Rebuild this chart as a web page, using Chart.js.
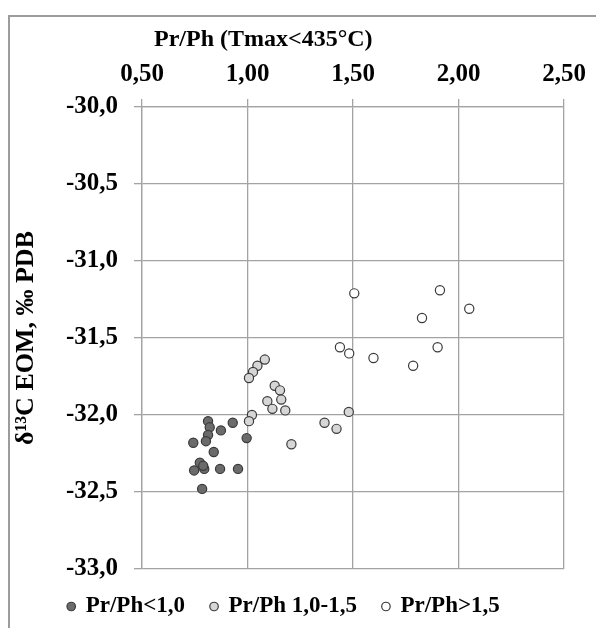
<!DOCTYPE html>
<html><head><meta charset="utf-8">
<script src="https://cdn.jsdelivr.net/npm/chart.js@4.4.1/dist/chart.umd.min.js"></script>
<style>html,body{margin:0;padding:0;background:#fff;}#wrap{position:relative;width:596px;height:628px;}</style>
</head><body><div id="wrap"><canvas id="c" width="596" height="628"></canvas></div>
<script>
// ---- data ----
const seriesNames = ['Pr/Ph<1,0', 'Pr/Ph 1,0-1,5', 'Pr/Ph>1,5'];
const xTitle = 'Pr/Ph (Tmax<435°C)';
const yTitle = 'δ¹³C EOM, ‰ PDB';
const lowX = [0.813, 0.821, 0.813, 0.803, 0.743, 0.874, 0.930, 0.996, 0.840, 0.774, 0.747, 0.795, 0.790, 0.870, 0.955, 0.785];
const lowY = [-32.04, -32.08, -32.13, -32.17, -32.18, -32.10, -32.05, -32.15, -32.24, -32.31, -32.36, -32.35, -32.33, -32.35, -32.35, -32.48];
const midX = [1.082, 1.047, 1.026, 1.007, 1.129, 1.154, 1.160, 1.094, 1.118, 1.179, 1.021, 1.007, 1.208, 1.365, 1.422, 1.480];
const midY = [-31.64, -31.68, -31.72, -31.76, -31.81, -31.84, -31.90, -31.91, -31.96, -31.97, -32.00, -32.04, -32.19, -32.05, -32.09, -31.98];
const highX = [1.506, 1.912, 2.051, 1.827, 1.438, 1.482, 1.597, 1.901, 1.785];
const highY = [-31.21, -31.19, -31.31, -31.37, -31.56, -31.60, -31.63, -31.56, -31.68];
const xTicks = [0.5, 1.0, 1.5, 2.0, 2.5];
const yTicks = [-33.0, -32.5, -32.0, -31.5, -31.0, -30.5, -30.0];

// ---- layout / style ----
const AREA = {left: 142, top: 107, right: 564, bottom: 569};
const PAD = {left: 4, top: 8, right: 32, bottom: 0};
const FONT = "'Liberation Serif', 'Times New Roman', serif";
const GRID = '#a3a3a3';

const pts = (xs, ys) => xs.map((x, i) => ({x: x, y: ys[i]}));
const comma = (v, d) => v.toFixed(d).replace('.', ',');

const frame = {
  id: 'frame',
  beforeDraw(chart) {
    const ctx = chart.ctx;
    ctx.save();
    ctx.strokeStyle = '#9c9c9c';
    ctx.lineWidth = 2;
    ctx.beginPath();
    ctx.moveTo(9, 628); ctx.lineTo(9, 16); ctx.lineTo(596, 16);
    ctx.stroke();
    ctx.restore();
  }
};

new Chart(document.getElementById('c'), {
  type: 'scatter',
  data: {
    datasets: [
      {label: seriesNames[0], data: pts(lowX, lowY), backgroundColor: '#6b6b6b', borderColor: '#3a3a3a'},
      {label: seriesNames[1], data: pts(midX, midY), backgroundColor: '#d6d6d6', borderColor: '#3a3a3a'},
      {label: seriesNames[2], data: pts(highX, highY), backgroundColor: '#ffffff', borderColor: '#3a3a3a'}
    ]
  },
  options: {
    responsive: false,
    animation: false,
    devicePixelRatio: 1,
    layout: {padding: PAD},
    elements: {point: {radius: 4.6, borderWidth: 1.2, hoverRadius: 4.6}},
    plugins: {
      tooltip: {enabled: false},
      legend: {
        position: 'bottom',
        align: 'center',
        labels: {
          usePointStyle: true, pointStyle: 'circle',
          boxWidth: 6, boxHeight: 6, padding: 26,
          color: '#000',
          font: {family: FONT, size: 23, weight: 'bold'}
        }
      }
    },
    scales: {
      x: {
        type: 'linear', position: 'top', min: 0.5, max: 2.5,
        afterBuildTicks(s) { s.ticks = xTicks.map(v => ({value: v})); },
        afterFit(s) { s.height = AREA.top - PAD.top; s.paddingLeft = 0; s.paddingRight = 0; },
        ticks: {
          callback: v => comma(v, 2), padding: 9, color: '#000',
          font: {family: FONT, size: 25, weight: 'bold'}, maxRotation: 0, autoSkip: false
        },
        grid: {color: GRID, lineWidth: 1.3, tickLength: 8, tickColor: GRID},
        border: {color: GRID, width: 1.3},
        title: {
          display: true, text: '  ' + xTitle, align: 'start', padding: {top: 17, bottom: 0},
          color: '#000', font: {family: FONT, size: 24, weight: 'bold'}
        }
      },
      y: {
        type: 'linear', position: 'left', min: -33, max: -30,
        afterBuildTicks(s) { s.ticks = yTicks.map(v => ({value: v})); },
        afterFit(s) { s.width = AREA.left - PAD.left; s.paddingTop = 0; s.paddingBottom = 0; },
        ticks: {
          callback: v => comma(v, 1), padding: 16, color: '#000',
          font: {family: FONT, size: 25, weight: 'bold'}, autoSkip: false
        },
        grid: {color: GRID, lineWidth: 1.3, tickLength: 8, tickColor: GRID},
        border: {color: GRID, width: 1.3},
        title: {
          display: true, text: yTitle, align: 'center', padding: {top: 7, bottom: 0},
          color: '#000', font: {family: FONT, size: 26, weight: 'bold'}
        }
      }
    }
  },
  plugins: [frame]
});
</script>
</body></html>
